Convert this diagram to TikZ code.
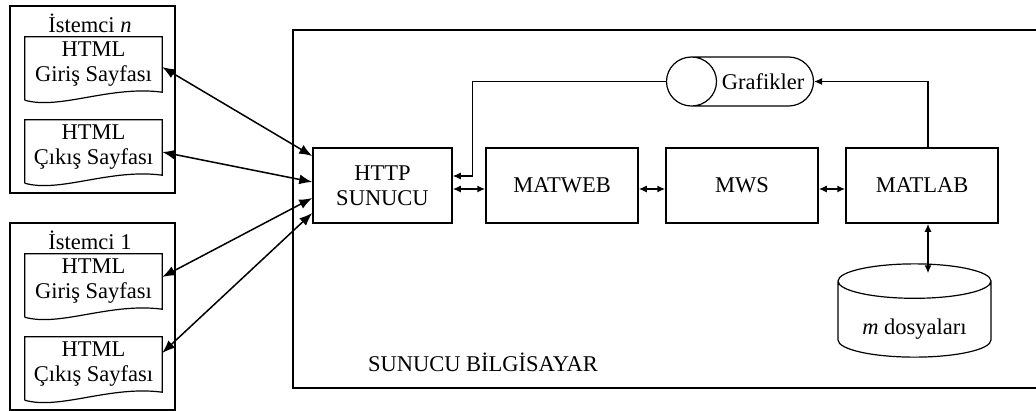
\documentclass[tikz,border=0pt]{standalone}
\usepackage{fontspec}
\setmainfont{Liberation Serif}
\usetikzlibrary{arrows.meta,shapes.geometric}

\begin{document}
\begin{tikzpicture}[x=1pt,y=-1pt,
  font=\fontsize{22.5}{25}\selectfont,
  box/.style={draw,line width=1.5pt,minimum width=152,minimum height=75,inner sep=0pt,align=center},
  client/.style={draw,line width=1.5pt,minimum width=165,minimum height=187,inner sep=0pt},
  docu/.style={minimum width=137,minimum height=55,inner sep=0pt,align=center},
  link/.style={line width=1.5pt,{Latex[length=13pt,width=10pt]}-{Latex[length=13pt,width=10pt]}},
  duo/.style={line width=1.5pt,{Latex[length=8pt,width=7pt]}-{Latex[length=8pt,width=7pt]}},
  one/.style={line width=1.2pt,-{Latex[length=8pt,width=7pt]}}]
  \useasboundingbox (0,0) rectangle (1036,410);

  % server frame
  \draw[line width=1.5pt] (293,30) rectangle (1045,388);
  \node (srvlabel) at (483,362) {SUNUCU BİLGİSAYAR};

  % clients
  \node[client] (clientn) at (92.5,99.5) {};
  \node (titlen) at (90,23) {İstemci \textit{n}};
  \node[docu] (d1) at (93.5,64.5) {HTML\\Giriş Sayfası};
  \node[docu] (d2) at (93.5,147.5) {HTML\\Çıkış Sayfası};
  \node[client] (client1) at (92.5,316.5) {};
  \node (title1) at (90,240) {İstemci 1};
  \node[docu] (d3) at (93.5,281.5) {HTML\\Giriş Sayfası};
  \node[docu] (d4) at (93.5,364.5) {HTML\\Çıkış Sayfası};
  \foreach \d in {d1,d2,d3,d4}
    \draw[line width=1.2pt] ([yshift=-8pt]\d.south west) -- (\d.north west) -- (\d.north east) -- (\d.south east)
      .. controls +(-52,-7) and +(35,10) .. ([yshift=-8pt]\d.south west);

  % server parts
  \node[box,minimum width=139] (http) at (382.5,185.5) {HTTP\\SUNUCU};
  \node[box] (matweb) at (562,185.5) {MATWEB};
  \node[box] (mws) at (742,185.5) {MWS};
  \node[box] (matlab) at (922,185.5) {MATLAB};
  \node[cylinder,draw,line width=1.2pt,shape border rotate=180,aspect=2,anchor=shape center,
        minimum width=49,minimum height=147,inner sep=0pt,text height=25pt] (graf) at (740,81.5) {};
  \node (graftext) at (763,81.5) {Grafikler};
  \node[cylinder,draw,line width=1.2pt,shape border rotate=90,aspect=0.33,anchor=shape center,
        minimum width=153,minimum height=90,inner sep=0pt,text height=36pt,text depth=5pt] (db) at (914.5,310.5) {\textit{m} dosyaları};

  % client links
  \draw[link] ([yshift=-2.5pt]d1.east) -- ([yshift=29.5pt]http.west);
  \draw[link] ([yshift=-4.5pt]d2.east) -- ([yshift=3.5pt]http.west);
  \draw[link] ([yshift=4.5pt]d3.east) -- ([yshift=-12.5pt]http.west);
  \draw[link] ([yshift=11.5pt]d4.east) -- ([yshift=-27.5pt]http.west);

  % inner links
  \draw[duo] ([yshift=-3.5pt]http.east) -- ([yshift=-3.5pt]matweb.west);
  \draw[duo] ([yshift=-3.5pt]matweb.east) -- ([yshift=-3.5pt]mws.west);
  \draw[duo] ([yshift=-3.5pt]mws.east) -- ([yshift=-3.5pt]matlab.west);
  \draw[duo] ([xshift=6pt]matlab.south) -- ([xshift=13.5pt,yshift=-10pt]db.top);
  \draw[one] ([xshift=6pt]matlab.north) |- (graf.east);
  \draw[one] (graf.west) -| ([xshift=20pt,yshift=9.5pt]http.east) -- ([yshift=9.5pt]http.east);
\end{tikzpicture}
\end{document}
